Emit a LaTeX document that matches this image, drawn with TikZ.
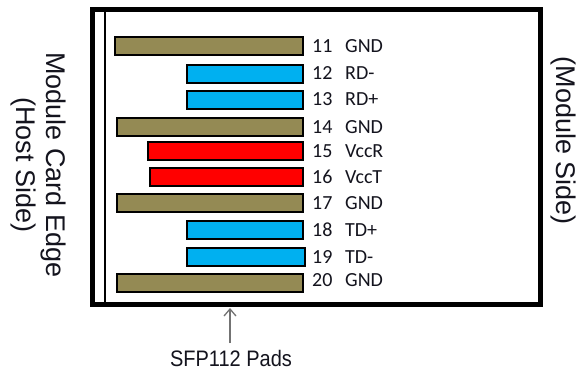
\documentclass[tikz,border=0pt]{standalone}
\usepackage{fontspec}
\setmainfont{Liberation Sans}
\newfontfamily\labfont{Carlito}
\usetikzlibrary{arrows.meta}
\definecolor{gndc}{RGB}{148,138,84}
\definecolor{sigc}{RGB}{0,176,240}
\definecolor{pwrc}{RGB}{255,0,0}
\definecolor{txtc}{RGB}{20,20,30}
\begin{document}
\begin{tikzpicture}[x=1pt,y=-1pt,
  padbar/.style={draw=black,line width=1.4pt,anchor=north west,inner sep=0pt,outer sep=0pt,minimum height=18pt},
  pinnum/.style={anchor=base west,inner sep=0pt,text=txtc,font=\labfont\fontsize{20}{23}\selectfont},
  pinname/.style={anchor=base west,inner sep=0pt,text=txtc,font=\labfont\fontsize{20}{23}\selectfont},
  sidetext/.style={rotate=-90,align=center,inner sep=0pt,text=txtc},
]
\useasboundingbox (0,0) rectangle (581,376);
\fill[white] (0,0) rectangle (581,376);
% outer card
\draw[line width=5pt] (92.5,9.5) rectangle (540.5,304.5);
\coordinate (edgetop) at (105,12);
\coordinate (edgebot) at (105,302);
\draw[line width=1.3pt] (edgetop) -- (edgebot);
% pads
\node[padbar,fill=gndc,minimum width=188pt] (b11) at (115,37) {};
\node[padbar,fill=sigc,minimum width=116pt] (b12) at (187,65) {};
\node[padbar,fill=sigc,minimum width=116pt] (b13) at (187,91) {};
\node[padbar,fill=gndc,minimum width=186pt] (b14) at (117,118) {};
\node[padbar,fill=pwrc,minimum width=155pt] (b15) at (148,142) {};
\node[padbar,fill=pwrc,minimum width=153pt] (b16) at (150,168) {};
\node[padbar,fill=gndc,minimum width=186pt] (b17) at (117,194) {};
\node[padbar,fill=sigc,minimum width=116pt] (b18) at (187,221) {};
\node[padbar,fill=sigc,minimum width=118pt] (b19) at (187,248) {};
\node[padbar,fill=gndc,minimum width=186pt] (b20) at (117,274) {};
% labels (baselines)
\foreach \n/\t/\y in {11/GND/52,12/RD-/79,13/RD+/105,14/GND/133,15/VccR/157,16/VccT/183,17/GND/209,18/TD+/236,19/TD-/263,20/GND/286}{
  \node[pinnum] (n\n) at (312,\y) {\n};
  \node[pinname] (t\n) at (345,\y) {\t};
}
% side texts
\node[sidetext,font=\fontsize{27}{30}\selectfont] (hostside) at (38,165) {Module Card Edge\\(Host Side)};
\node[sidetext,font=\fontsize{27}{30}\selectfont] (modside) at (563,141) {(Module Side)};
% pads caption
\node[inner sep=0pt,text=txtc,font=\fontsize{20}{24}\selectfont,yscale=1.12] (pads) at (231,358) {SFP112 Pads};
\coordinate (padtip) at (230,308);
\draw[draw=black!55,line width=1.3pt,-{Straight Barb[length=7pt,width=12pt]}] (230,343) -- (padtip);
\end{tikzpicture}
\end{document}
